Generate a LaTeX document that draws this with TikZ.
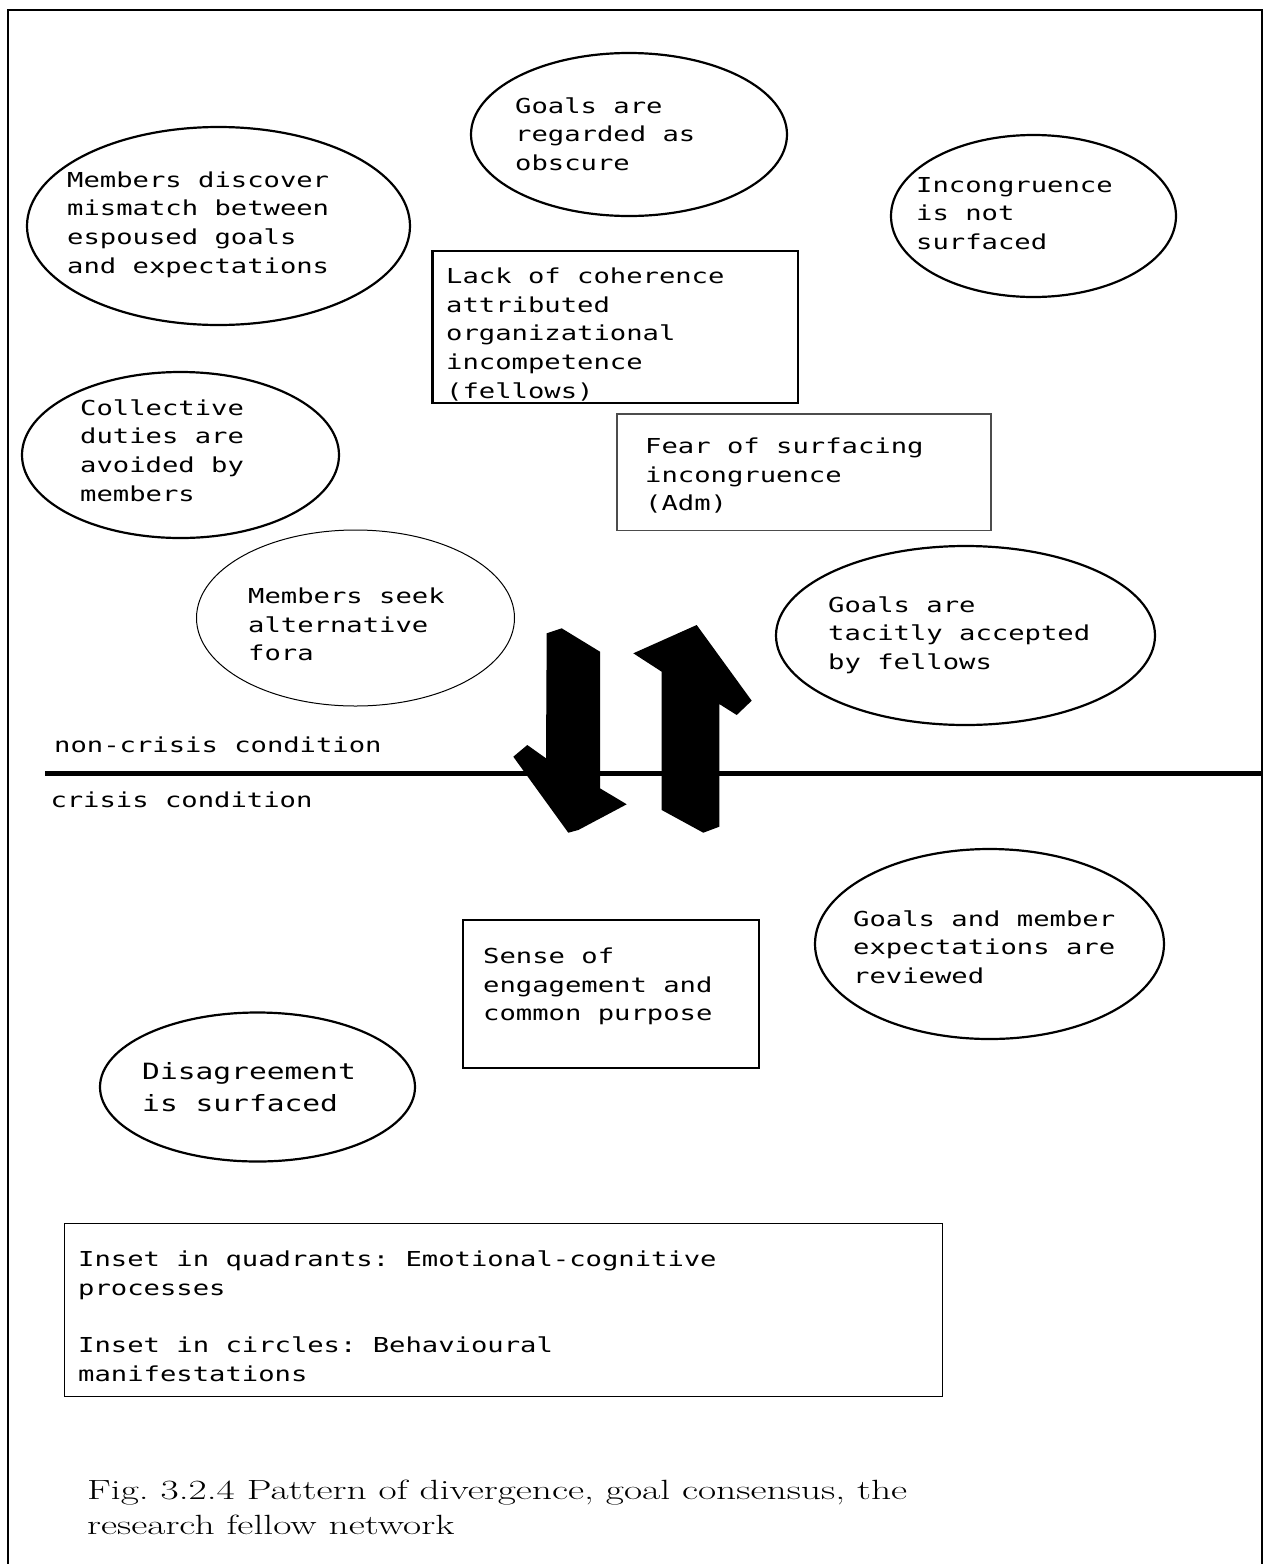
\documentclass[tikz,border=0pt]{standalone}
\usepackage{fontspec}
\usepackage{graphicx}
\usetikzlibrary{shapes.geometric}

% Wide sans typewriter face for the diagram labels
\newfontfamily\monofam{DejaVu Sans Mono}[FakeStretch=1.32]
\newcommand\txtsize{\fontsize{20.6}{28.7}\selectfont}
\newcommand\bigtxtsize{\fontsize{22.4}{32.7}\selectfont}
\newcommand\lns[1]{\begin{tabular}[t]{@{}l@{}}#1\end{tabular}}
\frenchspacing

\tikzset{
  oval/.style={ellipse, draw, line width=2.2pt, inner sep=0pt},
  thinoval/.style={oval, line width=1pt},
  boxnode/.style={rectangle, draw, line width=2.2pt, inner sep=0pt},
  thinbox/.style={boxnode, line width=1pt},
  greybox/.style={boxnode, line width=1.4pt, draw=black!70},
  lbl/.style={anchor=base west, inner sep=0pt, font=\monofam\txtsize},
  biglbl/.style={lbl, font=\monofam\bigtxtsize},
  bigarrow/.style={fill=black},
}

\begin{document}
\begin{tikzpicture}[x=1pt, y=-1pt]
\useasboundingbox (0,0) rectangle (1268,1564);
\fill[white] (0,0) rectangle (1268,1564);

% frame (open at the bottom)
\draw[line width=2pt] (8,1564) -- (8,10) -- (1262,10) -- (1262,1564);

% divider between the two conditions
\coordinate (divL) at (45,773.5);
\coordinate (divR) at (1262,773.5);
\draw[line width=5pt] (divL) -- (divR);

% ---- non-crisis quadrant ----
\node[oval, minimum width=316, minimum height=163] (obscure) at (629,134.5) {};
\node[lbl] (tObscure) at (515,113) {\lns{Goals are\\regarded as\\obscure}};

\node[oval, minimum width=383, minimum height=198] (mismatch) at (218.5,226) {};
\node[lbl] (tMismatch) at (67,187) {\lns{Members discover\\mismatch between\\espoused goals\\and expectations}};

\node[oval, minimum width=285, minimum height=162] (incong) at (1033.5,216) {};
\node[lbl] (tIncong) at (916,192) {\lns{Incongruence\\is not\\surfaced}};

\node[boxnode, minimum width=365.6, minimum height=152.3] (coherence) at (615.3,327) {};
\node[lbl] (tCoherence) at (446,283.3) {\lns{Lack of coherence\\attributed\\organizational\\incompetence\\(fellows)}};

\node[oval, minimum width=317, minimum height=166] (duties) at (180.5,455) {};
\node[lbl] (tDuties) at (80,415) {\lns{Collective\\duties are\\avoided by\\members}};

\node[greybox, minimum width=374, minimum height=116.7] (fear) at (804,472.3) {};
\node[lbl] (tFear) at (645,453.3) {\lns{Fear of surfacing\\incongruence\\(Adm)}};

\node[thinoval, minimum width=318, minimum height=176] (fora) at (355.5,618) {};
\node[lbl] (tFora) at (248,603.3) {\lns{Members seek\\alternative\\fora}};

\node[oval, minimum width=379, minimum height=179] (tacit) at (965.5,635.5) {};
\node[lbl] (tTacit) at (828,612) {\lns{Goals are\\tacitly accepted\\by fellows}};

\node[lbl] (noncrisis) at (54,752.7) {non-crisis condition};
\node[lbl] (crisis) at (50.3,807.3) {crisis condition};

% ---- transition arrows ----
\fill[bigarrow] (546.7,633.3) -- (561.7,628.3) -- (600,651.7) -- (600,788.3)
  -- (626.7,804.3) -- (578.3,830) -- (568.3,832.7) -- (513.3,756.7)
  -- (527.3,745) -- (546,758.3) -- cycle;
\fill[bigarrow] (633.3,653.3) -- (696.7,625) -- (751.7,700.7) -- (736.7,715)
  -- (719.3,704) -- (719.3,826.7) -- (703.3,832.7) -- (661.7,810)
  -- (661.7,671.7) -- cycle;

% ---- crisis quadrant ----
\node[oval, minimum width=349, minimum height=190] (reviewed) at (989.5,944) {};
\node[lbl] (tReviewed) at (853,926) {\lns{Goals and member\\expectations are\\reviewed}};

\node[boxnode, minimum width=296.3, minimum height=147.7] (engage) at (610.9,994) {};
\node[lbl] (tEngage) at (483,963.3) {\lns{Sense of\\engagement and\\common purpose}};

\node[oval, minimum width=315, minimum height=149] (disagree) at (257.5,1087) {};
\node[biglbl] (tDisagree) at (142,1079) {\lns{Disagreement\\is surfaced}};

% ---- key ----
\node[thinbox, minimum width=878.7, minimum height=173.4] (key) at (503.6,1310) {};
\node[lbl] (tKey) at (78,1266.7) {\lns{Inset in quadrants: Emotional-cognitive\\processes\\ \\Inset in circles: Behavioural\\manifestations}};

% ---- caption ----
\node[anchor=base west, inner sep=0pt] (caption) at (87,1499)
  {\scalebox{1.42}[1]{\fontsize{27.8}{35}\selectfont\lns{Fig. 3.2.4 Pattern of divergence, goal consensus, the\\research fellow network}}};
\end{tikzpicture}
\end{document}
